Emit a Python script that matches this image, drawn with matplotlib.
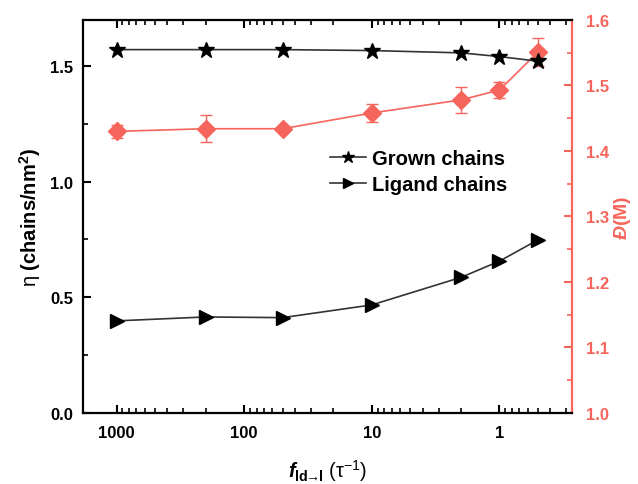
import matplotlib
matplotlib.use("Agg")
import matplotlib.pyplot as plt
from matplotlib.ticker import LogLocator, MultipleLocator, FixedLocator, NullFormatter, FormatStrFormatter

plt.rcParams['font.family'] = ['Liberation Sans', 'DejaVu Sans']
plt.rcParams['mathtext.fontset'] = 'custom'
plt.rcParams['mathtext.rm'] = 'Liberation Sans'
plt.rcParams['mathtext.it'] = 'Liberation Sans:italic'
plt.rcParams['mathtext.bf'] = 'Liberation Sans:bold'
plt.rcParams['mathtext.bfit'] = 'Liberation Sans:bold:italic'

# data
freq = [1000, 200, 50, 10, 2, 1, 0.5]
grown = [1.570, 1.570, 1.570, 1.566, 1.556, 1.540, 1.520]
ligand = [0.398, 0.415, 0.412, 0.467, 0.586, 0.656, 0.748]
dispersity = [1.430, 1.434, 1.434, 1.458, 1.478, 1.493, 1.551]
disp_err = [0.010, 0.021, 0.004, 0.0135, 0.0195, 0.012, 0.0215]
xticks = [1000, 100, 10, 1]
xticklabels = ['1000', '100', '10', '1']

red = '#F5655B'

fig = plt.figure(figsize=(6.38, 4.85), dpi=100)
ax = fig.add_axes([0.130, 0.1464, 0.7666, 0.8103])
ax2 = ax.twinx()

ax.set_zorder(ax2.get_zorder() + 1)
ax.patch.set_visible(False)

ax.plot(freq, grown, color='#333333', lw=1.2, marker='*', ms=12, mfc='black', mec='black', label='Grown chains')
ax.plot(freq, ligand, color='#333333', lw=1.2, marker='>', ms=10, mfc='black', mec='black', label='Ligand chains')

ax2.errorbar(freq, dispersity, yerr=disp_err, color=red, lw=1.2, marker='D', ms=9.5,
             mfc=red, mec=red, capsize=4, elinewidth=1.0, capthick=1.0)

ax.set_xscale('log')
ax.set_xlim(1833, 0.27)
ax.set_ylim(0, 1.698)
ax2.set_ylim(1.0, 1.6)

ax.xaxis.set_major_locator(FixedLocator(xticks))
ax.set_xticklabels(xticklabels)
ax.xaxis.set_minor_locator(LogLocator(base=10, subs=range(2, 10), numticks=20))
ax.xaxis.set_minor_formatter(NullFormatter())
ax.yaxis.set_major_locator(MultipleLocator(0.5))
ax.yaxis.set_minor_locator(MultipleLocator(0.25))
ax.yaxis.set_major_formatter(FormatStrFormatter('%.1f'))
ax2.yaxis.set_major_locator(MultipleLocator(0.1))
ax2.yaxis.set_minor_locator(MultipleLocator(0.05))
ax2.yaxis.set_major_formatter(FormatStrFormatter('%.1f'))

ax.tick_params(axis='both', which='major', direction='in', length=6, width=1.5,
               top=True, right=False, labelsize=12)
ax.tick_params(axis='x', which='major', pad=9)
ax.tick_params(axis='y', which='major', pad=7)
ax.tick_params(axis='both', which='minor', direction='in', length=3.5, width=1.2,
               top=True, right=False)
for lab in ax.get_xticklabels() + ax.get_yticklabels():
    lab.set_fontweight('bold')

ax2.tick_params(axis='y', which='major', direction='in', length=6, width=1.5,
                colors=red, labelsize=12, pad=10)
ax2.tick_params(axis='y', which='minor', direction='in', length=3.5, width=1.2, colors=red)
for lab in ax2.get_yticklabels():
    lab.set_fontweight('bold')

for s in ['left', 'bottom', 'top']:
    ax.spines[s].set_linewidth(1.6)
ax.spines['right'].set_visible(False)
for s in ['left', 'bottom', 'top']:
    ax2.spines[s].set_visible(False)
ax2.spines['right'].set_color(red)
ax2.spines['right'].set_linewidth(1.6)

ax.set_ylabel(r'$\mathrm{\eta}$ (chains/nm$^{\mathbf{2}}$)', fontsize=14.5, fontweight='bold', labelpad=5)
ax.set_xlabel(r'$\mathbfit{f}_{\mathbf{ld}\!\!\rightarrow\!\!\mathbf{l}}$ ($\mathrm{\tau}^{-1}$)',
              fontsize=14.5, labelpad=12)
ax2.set_ylabel(r'$\mathbfit{Đ}$(M)', fontsize=14, fontweight='bold', color=red, labelpad=2)

leg = ax.legend(loc='upper left', bbox_to_anchor=(0.505, 0.672), frameon=False,
                prop={'weight': 'bold', 'size': 14.5}, handlelength=1.8, markerscale=0.75,
                handletextpad=0.3, labelspacing=0.35, borderaxespad=0, borderpad=0)

fig.savefig('out.png', dpi=100)
